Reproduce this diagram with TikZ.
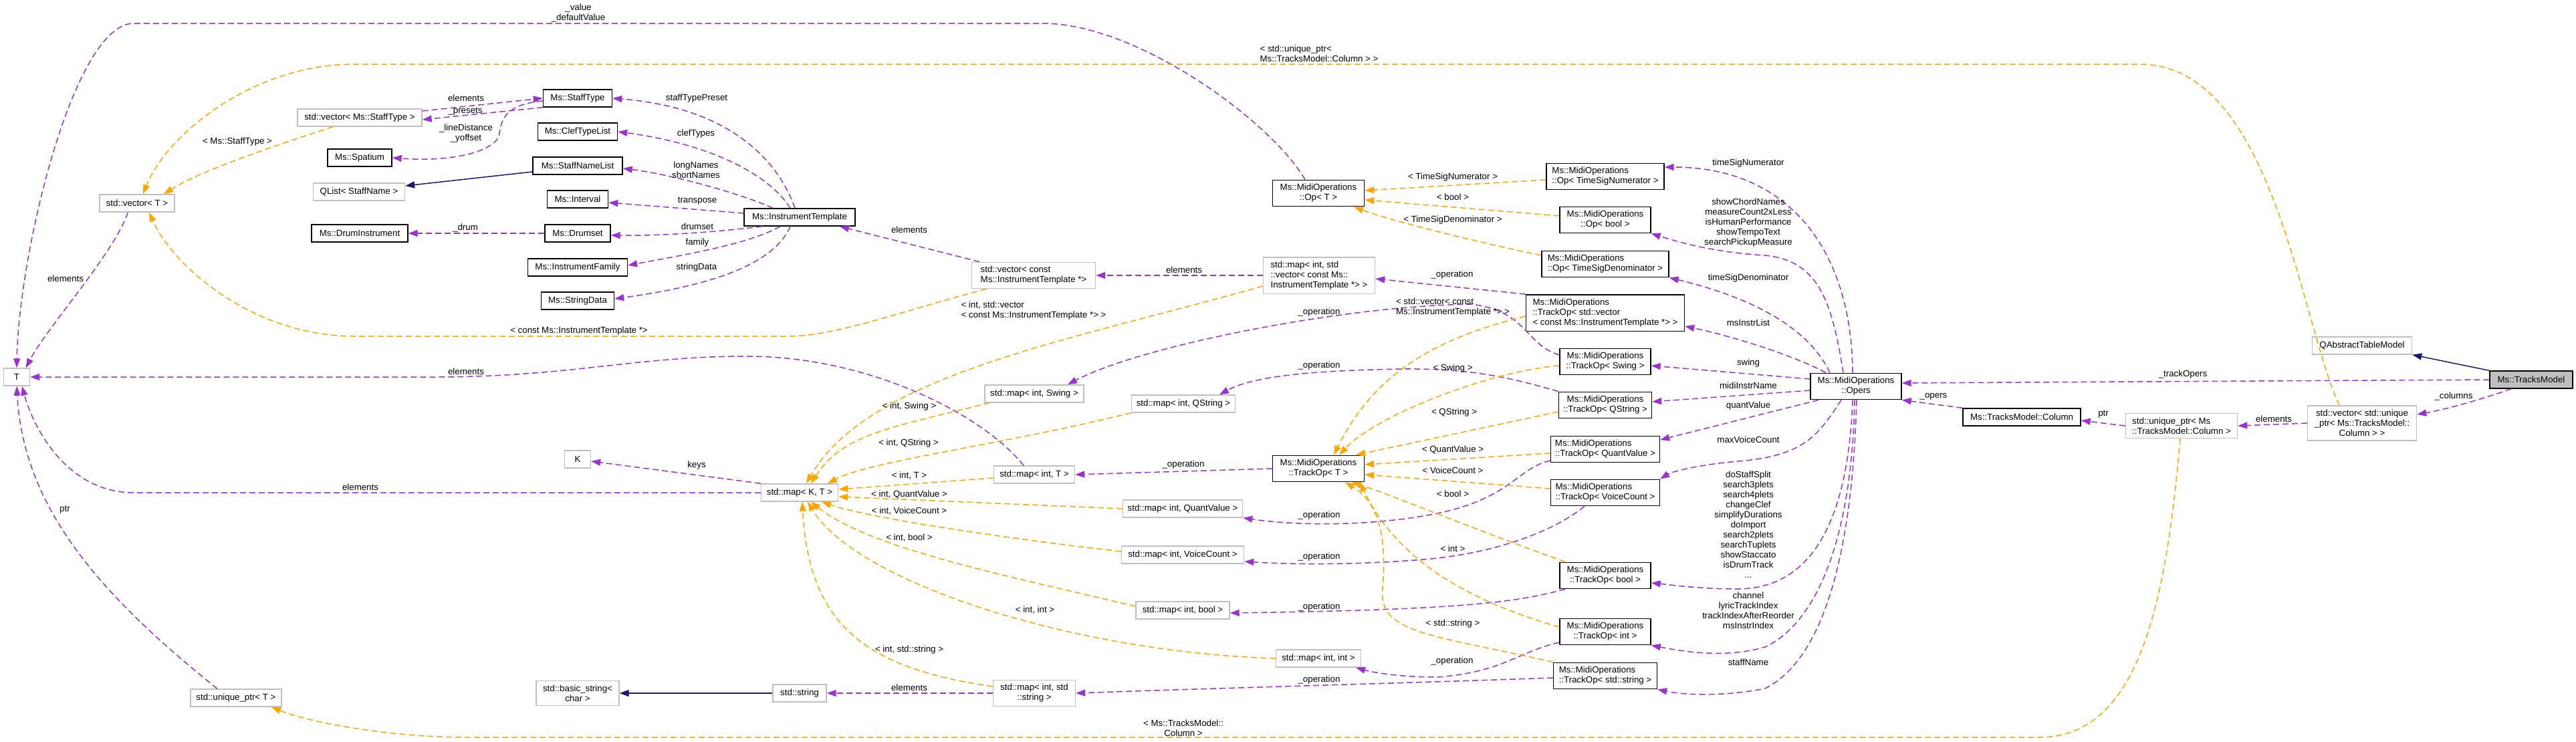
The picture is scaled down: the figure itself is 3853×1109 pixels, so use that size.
\documentclass[tikz,border=0pt]{standalone}
\usepackage{fontspec}
\setmainfont{Liberation Sans}
\usetikzlibrary{arrows.meta}
\definecolor{memcol}{HTML}{9A32CD}
\definecolor{tplcol}{HTML}{FFA500}
\definecolor{inhcol}{HTML}{191970}
\definecolor{undoc}{HTML}{BFBFBF}
\tikzset{
	box/.style={draw=black, line width=1.4pt, rectangle, fill=white, minimum height=26pt,
		inner xsep=4pt, inner ysep=6pt, align=center, font=\fontsize{13.3}{15}\selectfont},
	ext/.style={box, draw=undoc},
	wd/.style={minimum width=#1pt},
	mem/.style={draw=memcol, line width=1.5pt, dash pattern=on 9pt off 5pt,
		-{Triangle[length=14pt,width=10pt]}},
	tpl/.style={mem, draw=tplcol},
	inh/.style={draw=inhcol, line width=1.5pt, -{Triangle[length=14pt,width=10pt]}},
	lbl/.style={font=\fontsize{13.3}{15}\selectfont, inner sep=0pt, align=center}
}

\begin{document}
\begin{tikzpicture}[x=1pt, y=-1pt]
	\useasboundingbox (0,0) rectangle (3853,1109);

	% classes
	\node[ext, wd=39] (T) at (25,564) {T};
	\node[ext, wd=112] (vecT) at (205,304) {std::vector< T >};
	\node[ext, wd=136] (uptrT) at (353,1044) {std::unique\_ptr< T >};
	\node[ext, wd=186] (vecST) at (538,176) {std::vector< Ms::StaffType >};
	\node[box, wd=96] (spatium) at (538,236) {Ms::Spatium};
	\node[ext, wd=137] (qlist) at (537,287) {QList< StaffName >};
	\node[box, wd=144] (druminstr) at (538,349) {Ms::DrumInstrument};
	\node[box, wd=103] (stafftype) at (864,147) {Ms::StaffType};
	\node[box, wd=119] (clef) at (864,197) {Ms::ClefTypeList};
	\node[box, wd=134] (snl) at (864,248) {Ms::StaffNameList};
	\node[box, wd=91] (interval) at (864,298) {Ms::Interval};
	\node[box, wd=98] (drumset) at (864,349) {Ms::Drumset};
	\node[box, wd=149] (family) at (864,400) {Ms::InstrumentFamily};
	\node[box, wd=109] (strdata) at (864,450) {Ms::StringData};
	\node[ext, wd=39] (K) at (864,687) {K};
	\node[ext, wd=124] (bstr) at (864,1037) {std::basic\_string<\\char >};
	\node[box, wd=166] (itpl) at (1196,325) {Ms::InstrumentTemplate};
	\node[ext, wd=115] (mapKT) at (1196,737) {std::map< K, T >};
	\node[ext, wd=80] (str) at (1196,1037) {std::string};
	\node[ext, wd=185, align=left] (vecIT) at (1546,412) {std::vector< const\\Ms::InstrumentTemplate *>};
	\node[ext, wd=148] (mapSwing) at (1547,589) {std::map< int, Swing >};
	\node[ext, wd=121] (mapIntT) at (1547,710) {std::map< int, T >};
	\node[ext, wd=123] (mapStr) at (1547,1037) {std::map< int, std\\::string >};
	\node[ext, wd=155] (mapQStr) at (1770,604) {std::map< int, QString >};
	\node[ext, wd=179] (mapQV) at (1769,761) {std::map< int, QuantValue >};
	\node[ext, wd=183] (mapVC) at (1769,830) {std::map< int, VoiceCount >};
	\node[ext, wd=140] (mapBool) at (1769,913) {std::map< int, bool >};
	\node[ext, wd=167, align=left] (mapVecIT) at (1973,412) {std::map< int, std\\::vector< const Ms::\\InstrumentTemplate *> >};
	\node[box, wd=137] (opT) at (1972,289) {Ms::MidiOperations\\::Op< T >};
	\node[box, wd=137] (trOpT) at (1972,701) {Ms::MidiOperations\\::TrackOp< T >};
	\node[ext, wd=127] (mapIntInt) at (1972,985) {std::map< int, int >};
	\node[box, wd=176, align=left] (opNum) at (2401,264) {Ms::MidiOperations\\::Op< TimeSigNumerator >};
	\node[box, wd=136] (opBool) at (2401,329) {Ms::MidiOperations\\::Op< bool >};
	\node[box, wd=190, align=left] (opDen) at (2401,395) {Ms::MidiOperations\\::Op< TimeSigDenominator >};
	\node[box, wd=237, align=left] (trVec) at (2401,468) {Ms::MidiOperations\\::TrackOp< std::vector\\< const Ms::InstrumentTemplate *> >};
	\node[box, wd=136] (trSwing) at (2401,541) {Ms::MidiOperations\\::TrackOp< Swing >};
	\node[box, wd=139] (trQStr) at (2401,606) {Ms::MidiOperations\\::TrackOp< QString >};
	\node[box, wd=163, align=left] (trQV) at (2401,672) {Ms::MidiOperations\\::TrackOp< QuantValue >};
	\node[box, wd=163, align=left] (trVC) at (2401,737) {Ms::MidiOperations\\::TrackOp< VoiceCount >};
	\node[box, wd=136] (trBool) at (2401,861) {Ms::MidiOperations\\::TrackOp< bool >};
	\node[box, wd=136] (trInt) at (2401,945) {Ms::MidiOperations\\::TrackOp< int >};
	\node[box, wd=155, align=left] (trStr) at (2401,1011) {Ms::MidiOperations\\::TrackOp< std::string >};
	\node[box, wd=136] (opers) at (2776,578) {Ms::MidiOperations\\::Opers};
	\node[box, wd=176] (column) at (3024,624) {Ms::TracksModel::Column};
	\node[ext, wd=167, align=left] (uptrCol) at (3263,637) {std::unique\_ptr< Ms\\::TracksModel::Column >};
	\node[ext, wd=163] (vecCol) at (3533,633) {std::vector< std::unique\\\_ptr< Ms::TracksModel::\\Column > >};
	\node[ext, wd=149] (qatm) at (3533,517) {QAbstractTableModel};
	\node[box, wd=124, fill=undoc] (model) at (3786,568) {Ms::TracksModel};

	% usage of T
	\draw[mem] (vecT.-135) .. controls (170,380) and (70,490) .. (T.45) node[lbl] at (98,417) {elements};
	\draw[mem] ([xshift=-20pt]opT.north) .. controls (1900,180) and (1700,35) .. (1560,35) -- (200,35) .. controls (110,35) and (28,380) .. (T.north) node[lbl] at (865,19) {\_value\\\_defaultValue};
	\draw[mem] ([xshift=-28pt]uptrT.north) .. controls (150,890) and (35,760) .. (T.south) node[lbl] at (97,763) {ptr};
	\draw[mem] (mapKT.west) -- (200,737) .. controls (100,737) and (50,640) .. (T.-60) node[lbl] at (539,729) {elements};
	\draw[mem] ([xshift=-16pt]mapIntT.north) .. controls (1470,620) and (1300,533) .. (1117,533) .. controls (950,533) and (850,564) .. (650,564) -- (T.east) node[lbl] at (697,556) {elements};

	% staff types
	\draw[mem] ([yshift=10pt]vecST.east) -- (stafftype.west) node[lbl] at (697,147) {elements};
	\draw[mem] (stafftype.south west) -- ([yshift=-3pt]vecST.east) node[lbl] at (696,167) {\_presets};
	\draw[mem] ([yshift=-4pt]stafftype.west) .. controls (760,156) and (750,175) .. (747,200) .. controls (744,225) and (680,243) .. (spatium.east) node[lbl] at (697,200) {\_lineDistance\\\_yoffset};
	\draw[mem] (drumset.west) -- (druminstr.east) node[lbl] at (696,341) {\_drum};
	\draw[inh] ([yshift=-9pt]snl.west) -- ([yshift=9pt]qlist.east);

	% instrument template
	\draw[mem] ([xshift=-7pt]itpl.north) .. controls (1160,230) and (1080,160) .. (stafftype.east) node[lbl] at (1042,147) {staffTypePreset};
	\draw[mem] ([xshift=-14pt]itpl.north) .. controls (1150,260) and (1060,215) .. (clef.east) node[lbl] at (1041,200) {clefTypes};
	\draw[mem] ([xshift=-40pt]itpl.north) .. controls (1110,290) and (1000,260) .. ([yshift=-4pt]snl.east) node[lbl] at (1041,254) {longNames\\shortNames};
	\draw[mem] ([yshift=6pt]itpl.west) -- ([yshift=-5pt]interval.east) node[lbl] at (1043,301) {transpose};
	\draw[mem] ([xshift=-56pt]itpl.south) .. controls (1090,345) and (1000,353) .. ([yshift=-3pt]drumset.east) node[lbl] at (1043,339) {drumset};
	\draw[mem] ([xshift=-29pt]itpl.south) .. controls (1120,365) and (1030,380) .. ([yshift=3pt]family.east) node[lbl] at (1043,363) {family};
	\draw[mem] ([xshift=-14pt]itpl.south) .. controls (1160,390) and (1080,425) .. ([yshift=3pt]strdata.east) node[lbl] at (1042,400) {stringData};
	\draw[mem] ([xshift=-81pt]vecIT.north) -- ([xshift=60pt]itpl.south) node[lbl] at (1360,344) {elements};
	\draw[mem] (mapVecIT.west) -- (vecIT.east) node[lbl] at (1771,404) {elements};

	% maps
	\draw[mem] (mapKT.north west) -- ([yshift=-3pt]K.east) node[lbl] at (1042,696) {keys};
	\draw[inh] (str.west) -- (bstr.east);
	\draw[mem] (mapStr.west) -- (str.east) node[lbl] at (1360,1029) {elements};
	\draw[mem] (trOpT.west) -- (mapIntT.east) node[lbl] at (1770,695) {\_operation};
	\draw[mem] (trVec.north west) -- ([yshift=-5pt]mapVecIT.east) node[lbl] at (2172,411) {\_operation};
	\draw[mem] ([yshift=10pt]trSwing.west) .. controls (2280,515) and (2285,465) .. (2200,455) .. controls (2000,458) and (1700,520) .. ([xshift=50pt]mapSwing.north) node[lbl] at (1973,467) {\_operation};
	\draw[mem] (trQStr.north west) .. controls (2260,565) and (2200,551) .. (2100,552) .. controls (1950,554) and (1870,565) .. ([xshift=54pt]mapQStr.north) node[lbl] at (1973,547) {\_operation};
	\draw[mem] ([yshift=-17pt]trQV.west) .. controls (2270,700) and (2260,745) .. (2150,768) .. controls (2060,786) and (1950,788) .. (mapQV.south east) node[lbl] at (1973,771) {\_operation};
	\draw[mem] ([xshift=-31pt]trVC.south) .. controls (2330,790) and (2250,825) .. (2140,836) .. controls (2040,845) and (1940,845) .. ([yshift=-10pt]mapVC.east) node[lbl] at (1973,833) {\_operation};
	\draw[mem] ([xshift=-60pt]trBool.south) .. controls (2270,900) and (2200,912) .. ([yshift=-4pt]mapBool.east) node[lbl] at (1973,908) {\_operation};
	\draw[mem] ([yshift=-16pt]trInt.west) .. controls (2270,975) and (2250,1005) .. (2150,1013) .. controls (2090,1013) and (2050,1005) .. ([xshift=56pt]mapIntInt.south) node[lbl] at (2172,989) {\_operation};
	\draw[mem] ([yshift=-3pt]trStr.west) .. controls (2100,1022) and (1800,1030) .. (mapStr.east) node[lbl] at (1973,1017) {\_operation};

	% opers
	\draw[mem] ([xshift=-5pt]opers.north) .. controls (2770,380) and (2680,250) .. ([yshift=14pt]opNum.east) node[lbl] at (2615,244) {timeSigNumerator};
	\draw[mem] ([xshift=-19pt]opers.north) .. controls (2740,450) and (2720,390) .. (2640,382) .. controls (2570,378) and (2520,365) .. (opBool.south east) node[lbl] at (2615,333) {showChordNames\\measureCount2xLess\\isHumanPerformance\\showTempoText\\searchPickupMeasure};
	\draw[mem] ([xshift=-39pt]opers.north) .. controls (2710,500) and (2640,450) .. (opDen.south east) node[lbl] at (2615,416) {timeSigDenominator};
	\draw[mem] ([xshift=-45pt]opers.north) .. controls (2690,535) and (2600,505) .. ([yshift=-20pt]trVec.east) node[lbl] at (2615,483) {msInstrList};
	\draw[mem] ([yshift=11pt]opers.west) -- ([yshift=-6pt]trSwing.east) node[lbl] at (2615,543) {swing};
	\draw[mem] ([yshift=-6pt]opers.west) -- ([yshift=5pt]trQStr.east) node[lbl] at (2615,577) {midiInstrName};
	\draw[mem] ([xshift=-56pt]opers.south) -- ([yshift=14pt]trQV.east) node[lbl] at (2615,607) {quantValue};
	\draw[mem] ([xshift=-22pt]opers.south) .. controls (2720,650) and (2700,682) .. (2600,690) .. controls (2540,695) and (2500,706) .. (trVC.north east) node[lbl] at (2615,658) {maxVoiceCount};
	\draw[mem] ([xshift=-5pt]opers.south) .. controls (2765,760) and (2720,880) .. (2600,881) .. controls (2540,881) and (2500,875) .. ([yshift=-11pt]trBool.east) node[lbl] at (2615,785) {doStaffSplit\\search3plets\\search4plets\\changeClef\\simplifyDurations\\doImport\\search2plets\\searchTuplets\\showStaccato\\isDrumTrack\\...};
	\draw[mem] ([xshift=-2pt]opers.south) .. controls (2770,800) and (2720,930) .. (2640,968) .. controls (2580,985) and (2520,975) .. (trInt.south east) node[lbl] at (2615,913) {channel\\lyricTrackIndex\\trackIndexAfterReorder\\msInstrIndex};
	\draw[mem] ([xshift=1pt]opers.south) .. controls (2770,850) and (2720,990) .. (2640,1030) .. controls (2580,1042) and (2520,1040) .. (trStr.south east) node[lbl] at (2615,991) {staffName};

	% tracks model
	\draw[inh] (model.north west) -- (qatm.south east);
	\draw[mem] (model.west) -- ([yshift=5pt]opers.east) node[lbl] at (3265,560) {\_trackOpers};
	\draw[mem] (column.north west) -- (opers.south east) node[lbl] at (2892,593) {\_opers};
	\draw[mem] ([xshift=-30pt]model.south) .. controls (3710,598) and (3660,612) .. ([yshift=13pt]vecCol.east) node[lbl] at (3670,593) {\_columns};
	\draw[mem] (vecCol.west) -- (uptrCol.east) node[lbl] at (3401,627) {elements};
	\draw[mem] (uptrCol.west) -- ([yshift=-5pt]column.east) node[lbl] at (3146,620) {ptr};

	% template instances
	\draw[tpl] ([xshift=-40pt]vecST.south) .. controls (420,215) and (300,255) .. ([xshift=40pt]vecT.north) node[lbl] at (355,212) {< Ms::StaffType >};
	\draw[tpl] ([xshift=-71pt]vecIT.south) .. controls (1350,465) and (1250,503) .. (1180,503) -- (530,503) .. controls (380,503) and (260,400) .. ([xshift=18pt]vecT.south) node[lbl] at (866,495) {< const Ms::InstrumentTemplate *>};
	\draw[tpl] ([xshift=-34pt]vecCol.north) .. controls (3440,480) and (3400,96) .. (3200,96) -- (530,96) .. controls (380,96) and (250,200) .. ([xshift=9pt]vecT.north) node[lbl, align=left] at (1973,80) {< std::unique\_ptr<\\Ms::TracksModel::Column > >};
	\draw[tpl] ([xshift=-2pt]uptrCol.south) .. controls (3240,900) and (3200,1103) .. (3050,1103) -- (700,1103) .. controls (580,1103) and (460,1080) .. ([xshift=53pt]uptrT.south) node[lbl] at (1770,1089) {< Ms::TracksModel::\\Column >};

	\draw[tpl] ([yshift=-5pt]opNum.west) -- ([yshift=4pt]opT.east) node[lbl] at (2173,265) {< TimeSigNumerator >};
	\draw[tpl] ([yshift=6pt]opBool.west) -- ([yshift=-10pt]opT.east) node[lbl] at (2173,295) {< bool >};
	\draw[tpl] ([yshift=13pt]opDen.west) .. controls (2200,360) and (2080,330) .. ([xshift=53pt]opT.south) node[lbl] at (2173,329) {< TimeSigDenominator >};

	\draw[tpl] ([yshift=-16pt]mapVecIT.west) .. controls (1600,510) and (1300,560) .. ([xshift=10pt]mapKT.north) node[lbl, align=left] at (1546,465) {< int, std::vector\\< const Ms::InstrumentTemplate *> >};
	\draw[tpl] ([xshift=-67pt]mapSwing.south) .. controls (1330,640) and (1260,650) .. ([xshift=17pt]mapKT.north) node[lbl] at (1360,608) {< int, Swing >};
	\draw[tpl] (mapQStr.south west) .. controls (1500,665) and (1300,690) .. ([xshift=42pt]mapKT.north) node[lbl] at (1359,663) {< int, QString >};
	\draw[tpl] ([yshift=-5pt]mapIntT.west) -- ([yshift=5pt]mapKT.east) node[lbl] at (1360,712) {< int, T >};
	\draw[tpl] (mapQV.west) -- ([yshift=-6pt]mapKT.east) node[lbl] at (1360,740) {< int, QuantValue >};
	\draw[tpl] ([yshift=5pt]mapVC.west) .. controls (1500,805) and (1300,775) .. ([xshift=33pt]mapKT.south) node[lbl] at (1360,765) {< int, VoiceCount >};
	\draw[tpl] ([yshift=6pt]mapBool.west) .. controls (1500,860) and (1300,820) .. ([xshift=17pt]mapKT.south) node[lbl] at (1360,805) {< int, bool >};
	\draw[tpl] (mapIntInt.west) .. controls (1600,975) and (1280,870) .. ([xshift=12pt]mapKT.south) node[lbl] at (1548,913) {< int, int >};
	\draw[tpl] ([yshift=10pt]mapStr.west) .. controls (1300,1000) and (1210,940) .. ([xshift=4pt]mapKT.south) node[lbl] at (1360,972) {< int, std::string >};

	\draw[tpl] ([yshift=-5pt]trVec.west) .. controls (2130,510) and (2050,570) .. ([xshift=23pt]trOpT.north) node[lbl, align=left] at (2173,460) {< std::vector< const\\Ms::InstrumentTemplate *> >};
	\draw[tpl] ([yshift=-6pt]trSwing.west) .. controls (2230,555) and (2060,620) .. ([xshift=31pt]trOpT.north) node[lbl] at (2173,551) {< Swing >};
	\draw[tpl] ([yshift=-10pt]trQStr.west) -- ([xshift=56pt]trOpT.north) node[lbl] at (2175,617) {< QString >};
	\draw[tpl] ([yshift=-6pt]trQV.west) -- ([yshift=6pt]trOpT.east) node[lbl] at (2173,673) {< QuantValue >};
	\draw[tpl] ([yshift=6pt]trVC.west) -- ([yshift=-9pt]trOpT.east) node[lbl] at (2173,704) {< VoiceCount >};
	\draw[tpl] ([xshift=-60pt]trBool.north) .. controls (2200,790) and (2080,740) .. ([xshift=50pt]trOpT.south) node[lbl] at (2173,739) {< bool >};
	\draw[tpl] ([yshift=7pt]trInt.west) .. controls (2200,900) and (2090,840) .. ([xshift=62pt]trOpT.south) node[lbl] at (2173,821) {< int >};
	\draw[tpl] (trStr.north west) .. controls (2150,950) and (2060,950) .. (2068,880) .. controls (2075,800) and (2060,750) .. ([xshift=40pt]trOpT.south) node[lbl] at (2173,933) {< std::string >};
\end{tikzpicture}
\end{document}
